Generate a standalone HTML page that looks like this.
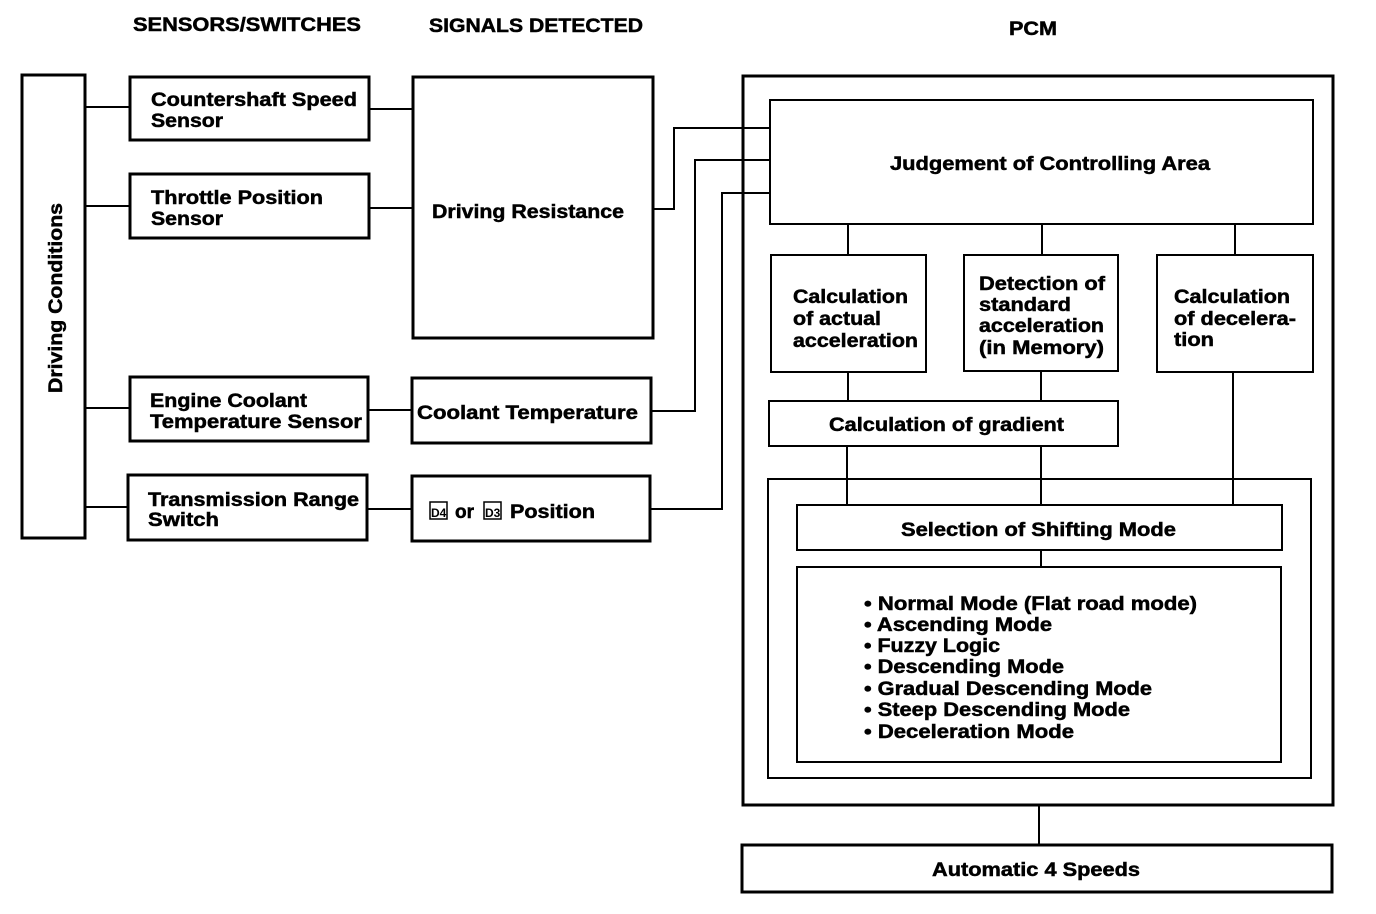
<!DOCTYPE html>
<html><head><meta charset="utf-8"><style>
html,body{margin:0;padding:0;background:#fff;}
svg{display:block;}
text{font-family:"Liberation Sans",Arial,sans-serif;font-weight:bold;font-size:19px;fill:#000;stroke:#000;stroke-width:0.5;}
</style></head><body>
<svg width="1376" height="914" viewBox="0 0 1376 914" xmlns="http://www.w3.org/2000/svg">
<g fill="none" stroke="#000" stroke-width="3">
<rect x="22" y="75" width="63" height="463"/>
<rect x="130" y="77" width="239" height="63"/>
<rect x="130" y="174" width="239" height="64"/>
<rect x="130" y="377" width="238" height="64"/>
<rect x="128" y="475" width="239" height="65"/>
<rect x="413" y="77" width="240" height="261"/>
<rect x="412" y="378" width="239" height="65"/>
<rect x="412" y="476" width="238" height="65"/>
<rect x="743" y="76" width="590" height="729"/>
<rect x="742" y="845" width="590" height="47"/>
</g>
<g fill="none" stroke="#000" stroke-width="2">
<line x1="85" y1="107" x2="130" y2="107"/>
<line x1="85" y1="206" x2="130" y2="206"/>
<line x1="85" y1="408" x2="130" y2="408"/>
<line x1="85" y1="507" x2="128" y2="507"/>
<line x1="369" y1="109" x2="413" y2="109"/>
<line x1="369" y1="208" x2="413" y2="208"/>
<line x1="368" y1="410" x2="412" y2="410"/>
<line x1="367" y1="509" x2="412" y2="509"/>
<polyline points="653,209 674,209 674,128 771,128"/>
<polyline points="651,411 695,411 695,160 771,160"/>
<polyline points="650,509 722,509 722,193 771,193"/>
<rect x="770" y="100" width="543" height="124"/>
<rect x="771" y="255" width="155" height="117"/>
<rect x="964" y="255" width="154" height="116"/>
<rect x="1157" y="255" width="156" height="117"/>
<rect x="769" y="401" width="349" height="45"/>
<rect x="768" y="479" width="543" height="299"/>
<rect x="797" y="505" width="485" height="45"/>
<rect x="797" y="567" width="484" height="195"/>
<line x1="848" y1="224" x2="848" y2="255"/>
<line x1="1042" y1="224" x2="1042" y2="255"/>
<line x1="1235" y1="224" x2="1235" y2="255"/>
<line x1="848" y1="372" x2="848" y2="401"/>
<line x1="1041" y1="371" x2="1041" y2="401"/>
<line x1="847" y1="446" x2="847" y2="505"/>
<line x1="1041" y1="446" x2="1041" y2="505"/>
<line x1="1233" y1="372" x2="1233" y2="505"/>
<line x1="1041" y1="550" x2="1041" y2="567"/>
<line x1="1039" y1="805" x2="1039" y2="845"/>
</g>
<text x="133" y="31" textLength="228" lengthAdjust="spacingAndGlyphs">SENSORS/SWITCHES</text>
<text x="429" y="32" textLength="214" lengthAdjust="spacingAndGlyphs">SIGNALS DETECTED</text>
<text x="1009" y="35" textLength="48" lengthAdjust="spacingAndGlyphs">PCM</text>
<text transform="translate(62,393) rotate(-90)" textLength="190" lengthAdjust="spacingAndGlyphs">Driving Conditions</text>
<text x="151" y="106" textLength="206" lengthAdjust="spacingAndGlyphs">Countershaft Speed</text>
<text x="151" y="127" textLength="72" lengthAdjust="spacingAndGlyphs">Sensor</text>
<text x="151" y="204" textLength="172" lengthAdjust="spacingAndGlyphs">Throttle Position</text>
<text x="151" y="225" textLength="72" lengthAdjust="spacingAndGlyphs">Sensor</text>
<text x="150" y="407" textLength="157" lengthAdjust="spacingAndGlyphs">Engine Coolant</text>
<text x="150" y="428" textLength="212" lengthAdjust="spacingAndGlyphs">Temperature Sensor</text>
<text x="148" y="506" textLength="211" lengthAdjust="spacingAndGlyphs">Transmission Range</text>
<text x="148" y="526" textLength="71" lengthAdjust="spacingAndGlyphs">Switch</text>
<text x="432" y="218" textLength="192" lengthAdjust="spacingAndGlyphs">Driving Resistance</text>
<text x="417" y="419" textLength="221" lengthAdjust="spacingAndGlyphs">Coolant Temperature</text>
<g fill="none" stroke="#000" stroke-width="1.5"><rect x="430" y="502" width="17" height="17"/><rect x="484" y="502" width="17" height="17"/></g>
<text x="431" y="517" style="font-size:12px;stroke-width:0">D4</text>
<text x="485" y="517" style="font-size:12px;stroke-width:0">D3</text>
<text x="455" y="518">or</text>
<text x="510" y="518" textLength="85" lengthAdjust="spacingAndGlyphs">Position</text>
<text x="890" y="170" textLength="320" lengthAdjust="spacingAndGlyphs">Judgement of Controlling Area</text>
<text x="793" y="303" textLength="115" lengthAdjust="spacingAndGlyphs">Calculation</text>
<text x="793" y="325" textLength="88" lengthAdjust="spacingAndGlyphs">of actual</text>
<text x="793" y="347" textLength="125" lengthAdjust="spacingAndGlyphs">acceleration</text>
<text x="979" y="290" textLength="126" lengthAdjust="spacingAndGlyphs">Detection of</text>
<text x="979" y="311" textLength="92" lengthAdjust="spacingAndGlyphs">standard</text>
<text x="979" y="332" textLength="125" lengthAdjust="spacingAndGlyphs">acceleration</text>
<text x="979" y="354" textLength="125" lengthAdjust="spacingAndGlyphs">(in Memory)</text>
<text x="1174" y="303" textLength="116" lengthAdjust="spacingAndGlyphs">Calculation</text>
<text x="1174" y="325" textLength="122" lengthAdjust="spacingAndGlyphs">of decelera-</text>
<text x="1174" y="346" textLength="40" lengthAdjust="spacingAndGlyphs">tion</text>
<text x="829" y="431" textLength="235" lengthAdjust="spacingAndGlyphs">Calculation of gradient</text>
<text x="901" y="536" textLength="275" lengthAdjust="spacingAndGlyphs">Selection of Shifting Mode</text>
<text x="864" y="610" textLength="333" lengthAdjust="spacingAndGlyphs">• Normal Mode (Flat road mode)</text>
<text x="864" y="631" textLength="188" lengthAdjust="spacingAndGlyphs">• Ascending Mode</text>
<text x="864" y="652" textLength="136" lengthAdjust="spacingAndGlyphs">• Fuzzy Logic</text>
<text x="864" y="673" textLength="200" lengthAdjust="spacingAndGlyphs">• Descending Mode</text>
<text x="864" y="695" textLength="288" lengthAdjust="spacingAndGlyphs">• Gradual Descending Mode</text>
<text x="864" y="716" textLength="266" lengthAdjust="spacingAndGlyphs">• Steep Descending Mode</text>
<text x="864" y="738" textLength="210" lengthAdjust="spacingAndGlyphs">• Deceleration Mode</text>
<text x="932" y="876" textLength="208" lengthAdjust="spacingAndGlyphs">Automatic 4 Speeds</text>
</svg>
</body></html>
